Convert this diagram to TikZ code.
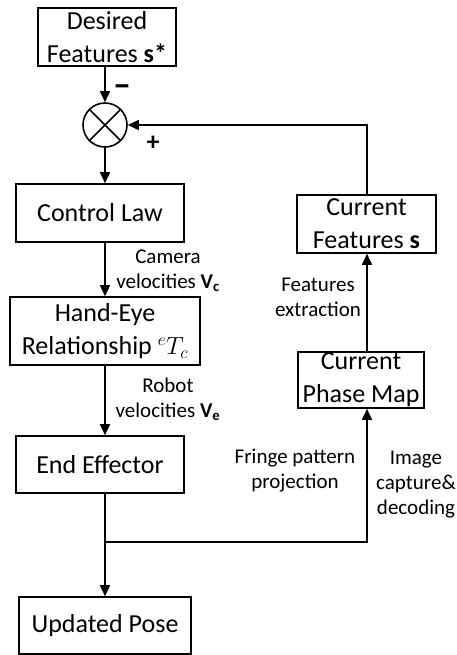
\documentclass[tikz,border=0pt]{standalone}
\usepackage{fontspec}
\setmainfont{Carlito}
\usetikzlibrary{arrows.meta}
\begin{document}
\begin{tikzpicture}[x=1pt,y=-1pt,
  box/.style={draw,line width=1.6pt,inner sep=0pt,align=center,font=\fontsize{26}{33}\selectfont},
  lbl/.style={align=center,inner sep=0pt,font=\fontsize{21}{25}\selectfont},
  arr/.style={line width=1.6pt,-{Triangle[length=11pt,width=10pt]}},
  ln/.style={line width=1.6pt}]
\useasboundingbox (0,0) rectangle (456,655);
\node[box,minimum width=138,minimum height=58] (des) at (107,37) {Desired\\Features \textbf{s*}};
\node[draw,circle,line width=1.6pt,minimum size=44,inner sep=0pt] (sum) at (105,125) {};
\draw[ln] (sum.north west) -- (sum.south east) (sum.north east) -- (sum.south west);
\node[box,minimum width=168,minimum height=58] (cl) at (100,213) {Control Law};
\node[box,minimum width=190,minimum height=68] (he) at (105,331) {Hand-Eye\\Relationship $^{e}T_{c}$};
\node[box,minimum width=168,minimum height=57] (ee) at (100,464.5) {End Effector};
\node[box,minimum width=172,minimum height=57] (up) at (105,625.5) {Updated Pose};
\node[box,minimum width=139,minimum height=58] (cf) at (366.5,224) {Current\\Features \textbf{s}};
\node[box,minimum width=126,minimum height=56] (pm) at (361,380) {Current\\Phase Map};
\node[inner sep=0pt,anchor=base,font=\fontsize{36}{36}\selectfont\bfseries] (minus) at (122,97) {–};
\node[inner sep=0pt,anchor=base,font=\fontsize{26}{26}\selectfont\bfseries] (plus) at (153,150) {+};
\node[lbl] (cam) at (168,271) {Camera\\velocities \textbf{V\textsubscript{c}}};
\node[lbl] (rob) at (168,399) {Robot\\velocities \textbf{V\textsubscript{e}}};
\node[lbl] (fe) at (318,297) {Features\\extraction};
\node[lbl] (fr) at (295,471) {Fringe pattern\\projection};
\node[lbl] (ic) at (416,485) {Image\\capture\&\\decoding};
\coordinate (j) at (105,542);
\coordinate (jr) at (367,542);
\draw[arr] (sum.north |- des.south) -- (sum.north);
\draw[arr] (sum.south) -- (sum.south |- cl.north);
\draw[arr] (sum.south |- cl.south) -- (sum.south |- he.north);
\draw[arr] (sum.south |- he.south) -- (sum.south |- ee.north);
\draw[arr] (sum.south |- ee.south) -- (sum.south |- up.north);
\draw[arr] (j) -- (jr) -- (jr |- pm.south);
\draw[arr] (jr |- pm.north) -- (jr |- cf.south);
\draw[arr] (jr |- cf.north) -- (jr |- sum.east) -- (sum.east);
\end{tikzpicture}
\end{document}
